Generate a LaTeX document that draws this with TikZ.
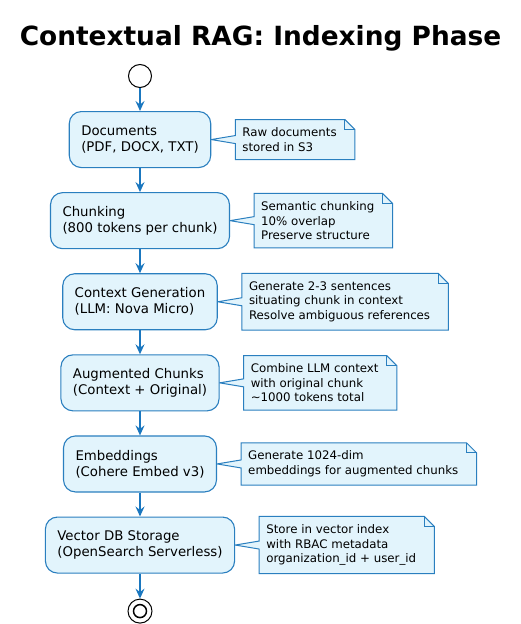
\documentclass[tikz,border=0pt]{standalone}
\usepackage{fontspec}
\setmainfont{DejaVu Sans}
\usetikzlibrary{positioning,arrows.meta,backgrounds}

\definecolor{umlblue}{HTML}{2A7FBF}
\definecolor{umlfill}{HTML}{E2F4FC}
\definecolor{umlarrow}{HTML}{1A77BF}

\tikzset{
  activity/.style={draw=umlblue, fill=umlfill, line width=1.1pt, rounded corners=12pt,
    align=left, inner xsep=12pt, minimum height=56pt,
    font=\fontsize{13.3}{16}\selectfont},
  notebox/.style={align=left, inner xsep=7pt, inner ysep=8pt,
    font=\fontsize{11.8}{14.5}\selectfont, right=24pt of #1},
  flow/.style={umlarrow, line width=1.5pt, -{Stealth[length=10pt,width=9pt,inset=3.5pt]}},
}

\begin{document}
\begin{tikzpicture}[x=1pt,y=1pt,node distance=24pt]
\useasboundingbox (0,0) rectangle (521,-624);

\node[font=\bfseries\fontsize{26.4}{30}\selectfont, anchor=base] (title) at (260.5,-45) {Contextual RAG: Indexing Phase};

% activities
\node[circle, draw, line width=1pt, fill=white, minimum size=23pt, inner sep=0pt] (start) at (140,-76) {};
\node[activity, below=23pt of start] (docs) {Documents\\(PDF, DOCX, TXT)};
\node[activity, below=of docs] (chunk) {Chunking\\(800 tokens per chunk)};
\node[activity, below=of chunk] (ctx) {Context Generation\\(LLM: Nova Micro)};
\node[activity, below=of ctx] (aug) {Augmented Chunks\\(Context + Original)};
\node[activity, below=of aug] (emb) {Embeddings\\(Cohere Embed v3)};
\node[activity, below=of emb] (vdb) {Vector DB Storage\\(OpenSearch Serverless)};
\node[circle, draw, line width=1pt, fill=white, minimum size=24pt, inner sep=0pt, below=25pt of vdb] (stop) {};
\node[circle, draw, line width=1.5pt, minimum size=13pt, inner sep=0pt] (stopin) at (stop) {};

% notes
\node[notebox=docs] (ndocs) {Raw documents\\stored in S3};
\node[notebox=chunk] (nchunk) {Semantic chunking\\10\% overlap\\Preserve structure};
\node[notebox=ctx] (nctx) {Generate 2-3 sentences\\situating chunk in context\\Resolve ambiguous references};
\node[notebox=aug] (naug) {Combine LLM context\\with original chunk\\\textasciitilde1000 tokens total};
\node[notebox=emb] (nemb) {Generate 1024-dim\\embeddings for augmented chunks};
\node[notebox=vdb] (nvdb) {Store in vector index\\with RBAC metadata\\organization\_id + user\_id};

\begin{scope}[on background layer]
\foreach \b/\n in {docs/ndocs,chunk/nchunk,ctx/nctx,aug/naug,emb/nemb,vdb/nvdb}{
  \filldraw[draw=umlblue, fill=umlfill, line width=1pt, line join=miter]
    (\n.north west) -- ([xshift=1pt]\n.north east) -- ([xshift=11pt,yshift=-10pt]\n.north east)
    -- ([xshift=11pt]\n.south east) -- (\n.south west) -- ([yshift=-4pt]\n.west)
    -- (\b.east) -- ([yshift=4pt]\n.west) -- cycle;
  \draw[umlblue, line width=1pt] ([xshift=1pt]\n.north east) |- ([xshift=11pt,yshift=-10pt]\n.north east);
}
\end{scope}

% flow
\foreach \a/\b in {start/docs,docs/chunk,chunk/ctx,ctx/aug,aug/emb,emb/vdb,vdb/stop}
  \draw[flow] (\a) -- (\b);
\end{tikzpicture}
\end{document}
